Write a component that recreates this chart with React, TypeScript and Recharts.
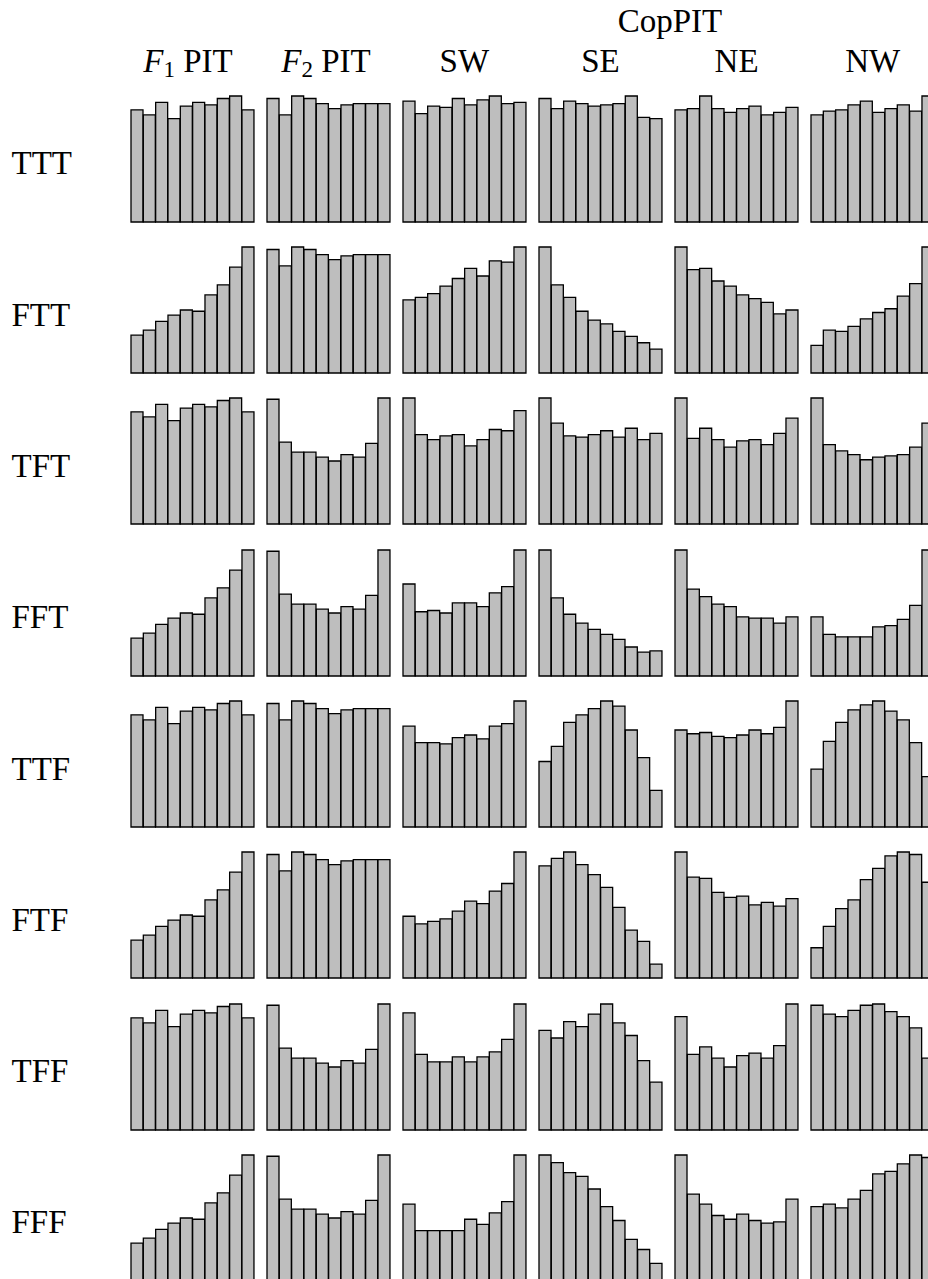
import React from "react";
import { BarChart, Bar, XAxis, YAxis } from "recharts";

// row labels (PIT flags) and column headers
const rowLabels = ["TTT", "FTT", "TFT", "FFT", "TTF", "FTF", "TFF", "FFF"];
const copLabels = ["SW", "SE", "NE", "NW"];

// relative bin heights (% of tallest bin in the panel), 10 bins each
const f1PitT = [89, 85, 95, 82, 92, 95, 93, 98, 100, 89];
const f1PitF = [30, 34, 41, 46, 50, 49, 62, 70, 84, 100];
const f2PitT = [98, 85, 100, 98, 94, 90, 93, 94, 94, 94];
const f2PitF = [99, 65, 57, 57, 53, 50, 55, 53, 64, 100];

const swBins = [
  [96, 86, 92, 91, 98, 93, 97, 100, 94, 95],
  [58, 60, 63, 69, 75, 83, 77, 89, 88, 100],
  [100, 71, 67, 70, 71, 62, 67, 75, 74, 90],
  [73, 51, 52, 50, 58, 58, 55, 66, 71, 100],
  [80, 67, 67, 66, 71, 73, 70, 80, 82, 100],
  [49, 43, 45, 47, 53, 61, 59, 69, 75, 100],
  [93, 60, 54, 54, 58, 54, 58, 62, 72, 100],
  [61, 40, 40, 40, 40, 49, 45, 54, 63, 100],
];
const seBins = [
  [98, 90, 96, 94, 92, 93, 94, 100, 83, 82],
  [100, 70, 60, 49, 42, 39, 33, 29, 24, 19],
  [100, 80, 70, 69, 71, 74, 69, 76, 67, 72],
  [100, 62, 49, 42, 37, 33, 29, 23, 19, 20],
  [52, 64, 83, 89, 94, 100, 96, 77, 55, 29],
  [89, 95, 100, 90, 82, 72, 56, 38, 29, 11],
  [79, 73, 86, 82, 92, 100, 85, 75, 55, 38],
  [100, 94, 86, 83, 73, 59, 48, 33, 25, 14],
];
const neBins = [
  [89, 90, 100, 90, 87, 90, 92, 85, 87, 91],
  [100, 82, 83, 73, 69, 62, 59, 56, 47, 50],
  [100, 68, 76, 67, 61, 66, 67, 63, 72, 84],
  [100, 69, 63, 57, 55, 47, 46, 46, 42, 47],
  [77, 74, 75, 72, 71, 73, 77, 74, 79, 100],
  [100, 80, 79, 68, 64, 65, 58, 60, 57, 63],
  [90, 60, 66, 57, 50, 59, 61, 57, 67, 100],
  [100, 69, 61, 52, 49, 53, 48, 46, 47, 65],
];
const nwBins = [
  [85, 88, 89, 93, 96, 87, 90, 93, 88, 100],
  [22, 34, 33, 37, 43, 48, 51, 61, 71, 100],
  [100, 63, 58, 55, 51, 53, 54, 55, 61, 80],
  [47, 33, 31, 31, 31, 39, 40, 45, 56, 100],
  [46, 68, 83, 93, 97, 100, 92, 85, 67, 40],
  [24, 41, 55, 62, 78, 87, 97, 100, 98, 76],
  [99, 92, 90, 95, 99, 100, 94, 90, 81, 57],
  [59, 61, 58, 65, 72, 85, 87, 93, 100, 98],
];

const FONT = '"Liberation Serif", "Times New Roman", serif';
const X0 = 130.5;
const DX = 136.1;
const Y0 = 95.7;
const DY = 151.3;
const PW = 123.3;
const PH = 126;

function Panel({ values, left, top }: { values: number[]; left: number; top: number }) {
  const data = values.map((v, i) => ({ bin: i, v }));
  return (
    <div style={{ position: "absolute", left: left - 1, top: top - 1 }}>
      <BarChart
        width={PW + 2}
        height={PH + 2}
        data={data}
        margin={{ top: 1, right: 1, left: 1, bottom: 1 }}
        barCategoryGap={0}
        barGap={0}
      >
        <XAxis dataKey="bin" hide />
        <YAxis hide domain={[0, 100]} />
        <Bar dataKey="v" fill="#bebebe" stroke="#000" strokeWidth={1.3} isAnimationActive={false} />
      </BarChart>
    </div>
  );
}

export default function App() {
  const panels: React.ReactNode[] = [];
  rowLabels.forEach((lab, r) => {
    const cols = [
      lab[0] === "T" ? f1PitT : f1PitF,
      lab[1] === "T" ? f2PitT : f2PitF,
      swBins[r],
      seBins[r],
      neBins[r],
      nwBins[r],
    ];
    cols.forEach((vals, c) => {
      panels.push(<Panel key={`${r}-${c}`} values={vals} left={X0 + DX * c} top={Y0 + DY * r} />);
    });
  });

  return (
    <div
      style={{
        position: "absolute",
        left: 0,
        top: 0,
        width: 928,
        height: 1279,
        overflow: "hidden",
        background: "#fff",
      }}
    >
      <svg width={928} height={1279} style={{ position: "absolute", left: 0, top: 0 }} fontFamily={FONT} fontSize={33} fill="#000">
        <text x={670} y={32} textAnchor="middle">CopPIT</text>
        <text x={188} y={72} textAnchor="middle">
          <tspan fontStyle="italic">F</tspan>
          <tspan fontSize={23} dy={5}>1</tspan>
          <tspan dy={-5}> PIT</tspan>
        </text>
        <text x={326} y={72} textAnchor="middle">
          <tspan fontStyle="italic">F</tspan>
          <tspan fontSize={23} dy={5}>2</tspan>
          <tspan dy={-5}> PIT</tspan>
        </text>
        {copLabels.map((l, i) => (
          <text key={l} x={X0 + DX * (i + 2) + PW / 2} y={72} textAnchor="middle">
            {l}
          </text>
        ))}
        {rowLabels.map((l, r) => (
          <text key={l} x={11.5} y={174.3 + DY * r}>
            {l}
          </text>
        ))}
      </svg>
      {panels}
    </div>
  );
}
